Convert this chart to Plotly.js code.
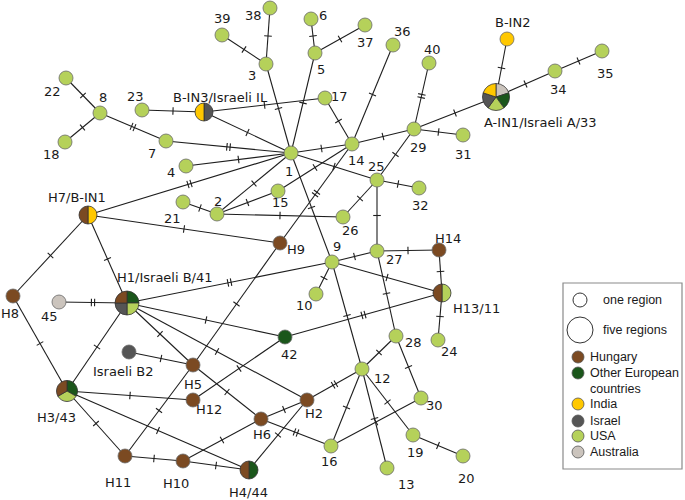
<!DOCTYPE html>
<html><head><meta charset="utf-8">
<script src="https://cdn.plot.ly/plotly-3.0.1.min.js"></script>
<style>html,body{margin:0;padding:0;background:#fff}#chart{width:685px;height:500px}</style>
</head><body><div id="chart"></div>
<script>
// ---- DATA ----
const regionNames = ["Hungary","Other European countries","India","Israel","USA","Australia"];
const regionLegendText = ["Hungary","Other European","India","Israel","USA","Australia"];
// haplotype ids and displayed labels
const nodeIds = ["1","2","3","4","5","6","7","8","9","10","12","13","14","15","16","17","18","19","20","21","22","23","24","25","26","27","28","29","30","31","32","34","35","36","37","38","39","40","45","42",
 "BIN2","AIN1","BIN3","H7","H1","H8","H9","H14","H13","B2","H5","H12","H3","H11","H10","H6","H2","H4"];
const nodeLabels = ["1","2","3","4","5","6","7","8","9","10","12","13","14","15","16","17","18","19","20","21","22","23","24","25","26","27","28","29","30","31","32","34","35","36","37","38","39","40","45","42",
 "B-IN2","A-IN1/Israeli A/33","B-IN3/Israeli IL","H7/B-IN1","H1/Israeli B/41","H8","H9","H14","H13/11","Israeli B2","H5","H12","H3/43","H11","H10","H6","H2","H4/44"];
// regions of each haplotype (clockwise from 12 o'clock for shared ones)
const nodeRegions = [
 ["USA"],["USA"],["USA"],["USA"],["USA"],["USA"],["USA"],["USA"],["USA"],["USA"],["USA"],["USA"],["USA"],["USA"],["USA"],["USA"],["USA"],["USA"],["USA"],["USA"],["USA"],["USA"],["USA"],["USA"],["USA"],["USA"],["USA"],["USA"],["USA"],["USA"],["USA"],["USA"],["USA"],["USA"],["USA"],["USA"],["USA"],["USA"],["Australia"],["Other European countries"],
 ["India"],["Australia","Other European countries","USA","Israel","India"],["Israel","India"],["India","Hungary"],
 ["Other European countries","USA","Israel","Hungary"],["Hungary"],["Hungary"],["Hungary"],["USA","Hungary"],["Israel"],["Hungary"],["Hungary"],
 ["Other European countries","USA","Hungary"],["Hungary"],["Hungary"],["Hungary"],["Hungary"],["Other European countries","Hungary"]];
// edges: [from, to, number of mutations]
const edges = [
 ["22","8",1],["18","8",1],["8","7",2],["7","1",2],["23","BIN3",1],["BIN3","17",1],["BIN3","1",1],
 ["39","3",1],["38","3",1],["3","1",1],["6","5",1],["37","5",1],["5","1",1],
 ["17","14",1],["36","14",1],["14","1",1],["14","29",1],["40","29",2],["29","AIN1",1],["29","31",1],
 ["AIN1","BIN2",1],["AIN1","34",1],["34","35",1],["4","1",1],["H7","1",2],["1","2",1],["1","25",1],["1","9",1],
 ["2","21",1],["2","15",1],["15","14",1],["2","26",1],["25","26",1],["29","25",1],["25","32",1],["25","27",1],
 ["14","H9",2],["H7","H9",1],["27","H14",1],["27","9",1],["27","28",1],["9","10",1],["9","H13",1],["9","12",1],["H1","9",2],
 ["H14","H13",1],["H13","24",1],["H13","42",2],["H1","42",1],["H1","H5",1],["H1","H2",1],["H7","H1",1],["H7","H8",1],
 ["H8","H3",1],["45","H1",2],["H1","H3",1],["H9","H5",1],["H5","H11",1],["H5","B2",1],["H5","H6",1],["H12","42",1],
 ["H3","H12",1],["H3","H11",1],["H3","H4",1],["H11","H10",1],["H10","H4",1],["H10","H6",1],["H6","H2",1],["H6","16",2],
 ["H2","H4",1],["H2","12",2],["12","28",1],["28","30",1],["12","16",1],["12","13",1],["12","19",1],["19","20",1],["16","30",1]];

// ---- LAYOUT (node placement, label placement; pixel space) ----
const nodeX = [291,217,266,186,315,311,166,100,332,316,362,387,352,278,331,325,65,413,463,183,66,142,438,377,343,377,396,414,421,463,419,555,602,393,365,270,222,429,59,285,
 507,496,204,88,127,13,280,439,442,129,193,193,67,125,183,261,307,249];
const nodeY = [153,214,64,166,53,19,141,113,262,294,369,468,144,191,446,98,142,435,456,202,78,110,340,180,217,251,336,129,398,135,188,71,51,45,25,8,35,63,302,337,
 39,97,112,215,303,296,243,250,293,352,365,400,391,456,461,419,400,470];
const labelX = [289,218,252,171,321,323,152,103,337,304,382,406,356,280,329,339,51,415,466,172,52,135,449,376,350,394,413,418,434,463,420,558,605,402,365,253,222,432,49,289,
 512,540,220,77,165,10,296,448,476,123,193,209,56,118,176,262,314,248];
const labelY = [171,201,75,172,69,15,153,97,246,305,378,484,160,202,461,96,154,452,478,218,91,96,351,166,230,259,342,147,405,154,205,89,73,31,42,15,18,49,316,354,
 22,122,97,197,277,313,249,238,308,371,384,409,417,482,483,434,413,492];

const colors = {"Hungary":"#7b4a22","Other European countries":"#1b561b","India":"#ffc800","Israel":"#555555","USA":"#b5d15a","Australia":"#cbc4bd"};
const W=685,H=500;
function radiusFor(n){return 7+1.5*(n-1);}

const idx = {}; nodeIds.forEach((id,i)=>idx[id]=i);

// edges
const ex=[],ey=[],tx=[],ty=[];
edges.forEach(([a,b,n])=>{
  const x1=nodeX[idx[a]],y1=nodeY[idx[a]],x2=nodeX[idx[b]],y2=nodeY[idx[b]];
  ex.push(x1,x2,null); ey.push(y1,y2,null);
  const dx=x2-x1,dy=y2-y1,L=Math.hypot(dx,dy),ux=dx/L,uy=dy/L,nx=-uy,ny=ux;
  const mx=(x1+x2)/2,my=(y1+y2)/2;
  for(let k=0;k<n;k++){
    const off=(k-(n-1)/2)*3.2;
    const cx=mx+ux*off,cy=my+uy*off;
    tx.push(cx+nx*3.8,cx-nx*3.8,null); ty.push(cy+ny*3.8,cy-ny*3.8,null);
  }
});
const traces=[
 {type:"scatter",mode:"lines",x:ex,y:ey,line:{color:"#1e1e1e",width:1.1},hoverinfo:"skip",showlegend:false},
 {type:"scatter",mode:"lines",x:tx,y:ty,line:{color:"#1e1e1e",width:1.1},hoverinfo:"skip",showlegend:false}
];
// single-region nodes
const sx=[],sy=[],sc=[];
nodeIds.forEach((id,i)=>{
  if(nodeRegions[i].length===1){sx.push(nodeX[i]);sy.push(nodeY[i]);sc.push(colors[nodeRegions[i][0]]);}
});
traces.push({type:"scatter",mode:"markers",x:sx,y:sy,marker:{size:2*radiusFor(1),opacity:1,color:sc,line:{color:"#6a6a6a",width:0.8}},hoverinfo:"skip",showlegend:false});
// shared haplotypes as pies
nodeIds.forEach((id,i)=>{
  const regs=nodeRegions[i]; if(regs.length<2) return;
  const r=radiusFor(regs.length)+0.5, cx=nodeX[i], cy=nodeY[i];
  traces.push({type:"pie",values:regs.map(()=>1),labels:regs,sort:false,direction:"clockwise",rotation:0,
    marker:{colors:regs.map(g=>colors[g]),line:{color:"#333",width:0.8}},textinfo:"none",hoverinfo:"skip",showlegend:false,
    domain:{x:[(cx-r)/W,(cx+r)/W],y:[1-(cy+r)/H,1-(cy-r)/H]}});
});
// labels
const annotations = nodeLabels.map((t,i)=>({x:labelX[i],y:labelY[i],xref:"x",yref:"y",text:t,showarrow:false,
  font:{family:"DejaVu Sans, Verdana, sans-serif",size:13,color:"#1a1a1a"},xanchor:"center",yanchor:"middle"}));

// legend box
const shapes=[{type:"rect",xref:"x",yref:"y",x0:563,x1:682,y0:283,y1:469,line:{color:"#8a8a8a",width:1.2},fillcolor:"rgba(0,0,0,0)"}];
const legFont={family:"Liberation Sans, Arial, sans-serif",size:12.5,color:"#1a1a1a"};
const sizeKeys=[[1,"one region",300],[5,"five regions",330]];
sizeKeys.forEach(([n,t,y])=>{const r=radiusFor(n);
  shapes.push({type:"circle",xref:"x",yref:"y",x0:580-r,x1:580+r,y0:y-r,y1:y+r,line:{color:"#333",width:1},fillcolor:"#fff"});
  annotations.push({x:601,y:y,xref:"x",yref:"y",text:t,showarrow:false,xanchor:"left",yanchor:"middle",font:legFont});
});
const legY=[357,373,404,421,436,452];
regionNames.forEach((g,k)=>{
  shapes.push({type:"circle",xref:"x",yref:"y",x0:572,x1:584,y0:legY[k]-6,y1:legY[k]+6,line:{color:"#555",width:0.8},fillcolor:colors[g]});
  annotations.push({x:588,y:legY[k],xref:"x",yref:"y",text:regionLegendText[k],showarrow:false,xanchor:"left",yanchor:"middle",font:legFont});
});
annotations.push({x:588,y:389,xref:"x",yref:"y",text:"countries",showarrow:false,xanchor:"left",yanchor:"middle",font:legFont});

const layout={width:W,height:H,margin:{l:0,r:0,t:0,b:0},paper_bgcolor:"#fff",plot_bgcolor:"#fff",
  xaxis:{range:[0,W],visible:false,fixedrange:true},yaxis:{range:[H,0],visible:false,fixedrange:true},
  showlegend:false,annotations:annotations,shapes:shapes};
Plotly.newPlot("chart",traces,layout,{staticPlot:true,displayModeBar:false});
</script></body></html>
